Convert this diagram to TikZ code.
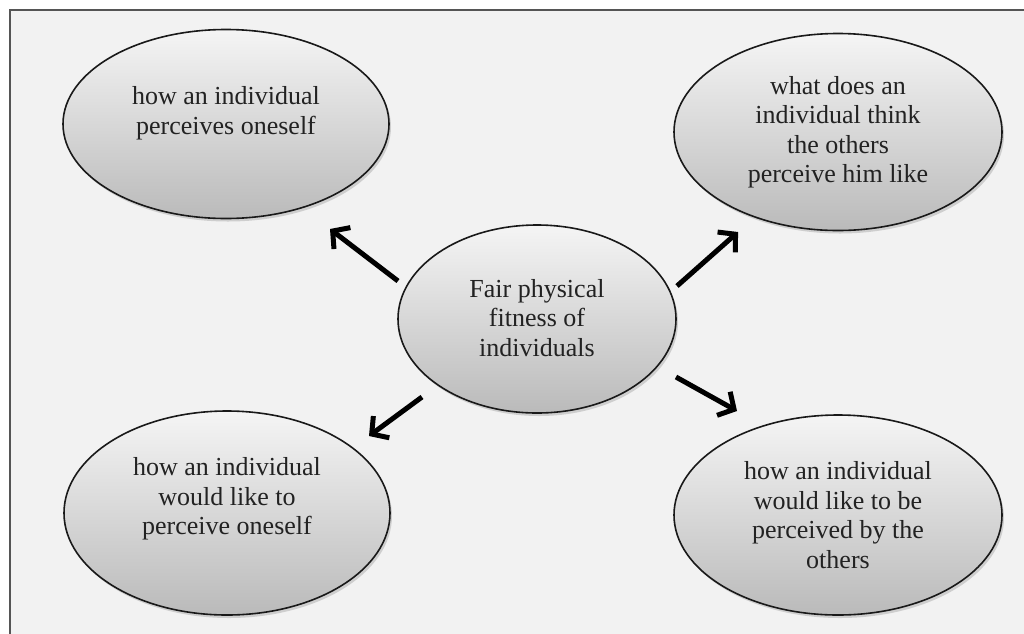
\documentclass[tikz,border=0pt]{standalone}
\usepackage{fontspec}
\setmainfont{Liberation Serif}
\usetikzlibrary{shapes.geometric,arrows.meta,shadows,fadings}
\definecolor{framebg}{HTML}{F2F2F2}
\definecolor{frameline}{HTML}{555555}
\definecolor{txt}{HTML}{222222}
\tikzset{
  bubble/.style={ellipse, draw=black!90, line width=1.6pt, inner sep=0pt,
    top color=black!4, bottom color=black!27,
    drop shadow={shadow xshift=2pt, shadow yshift=-3pt, opacity=0.25, fill=black!60}},
  btext/.style={align=center, text=txt, font=\fontsize{26}{29.5}\selectfont, inner sep=0pt},
  arr/.style={line width=5pt, black, line cap=butt,
    -{Straight Barb[length=12pt, width=27pt, line width=5pt]}}
}
\begin{document}
\begin{tikzpicture}[x=1pt,y=-1pt]
\useasboundingbox (0,0) rectangle (1024,633);
\fill[white] (0,0) rectangle (1024,633);
\begin{scope}
\clip (0,0) rectangle (1024,633);
\draw[frameline, fill=framebg, line width=2pt] (10,10) rectangle (1040,650);
\end{scope}

\node[bubble, minimum width=326pt, minimum height=189pt] (tl) at (226,124) {};
\node[bubble, minimum width=328pt, minimum height=197pt] (tr) at (838,132) {};
\node[bubble, minimum width=278pt, minimum height=188pt] (c) at (537,319) {};
\node[bubble, minimum width=326pt, minimum height=204pt] (bl) at (227,513) {};
\node[bubble, minimum width=328pt, minimum height=200pt] (br) at (838,515) {};

\node[btext] (tlt) at (226,113) {how an individual\\perceives oneself};
\node[btext] (trt) at (838,132) {what does an\\individual think\\the others\\perceive him like};
\node[btext] (ct) at (537,318) {Fair physical\\fitness of\\individuals};
\node[btext] (blt) at (227,499) {how an individual\\would like to\\perceive oneself};
\node[btext] (brt) at (838,515) {how an individual\\would like to be\\perceived by the\\others};

\coordinate (a1s) at (398,281);
\coordinate (a1e) at (330,229);
\coordinate (a2s) at (677,286);
\coordinate (a2e) at (738,232);
\coordinate (a3s) at (676,377);
\coordinate (a3e) at (737,411);
\coordinate (a4s) at (422,397);
\coordinate (a4e) at (369,436);

\draw[arr] (a1s) -- (a1e);
\draw[arr] (a2s) -- (a2e);
\draw[arr] (a3s) -- (a3e);
\draw[arr] (a4s) -- (a4e);
\end{tikzpicture}
\end{document}
